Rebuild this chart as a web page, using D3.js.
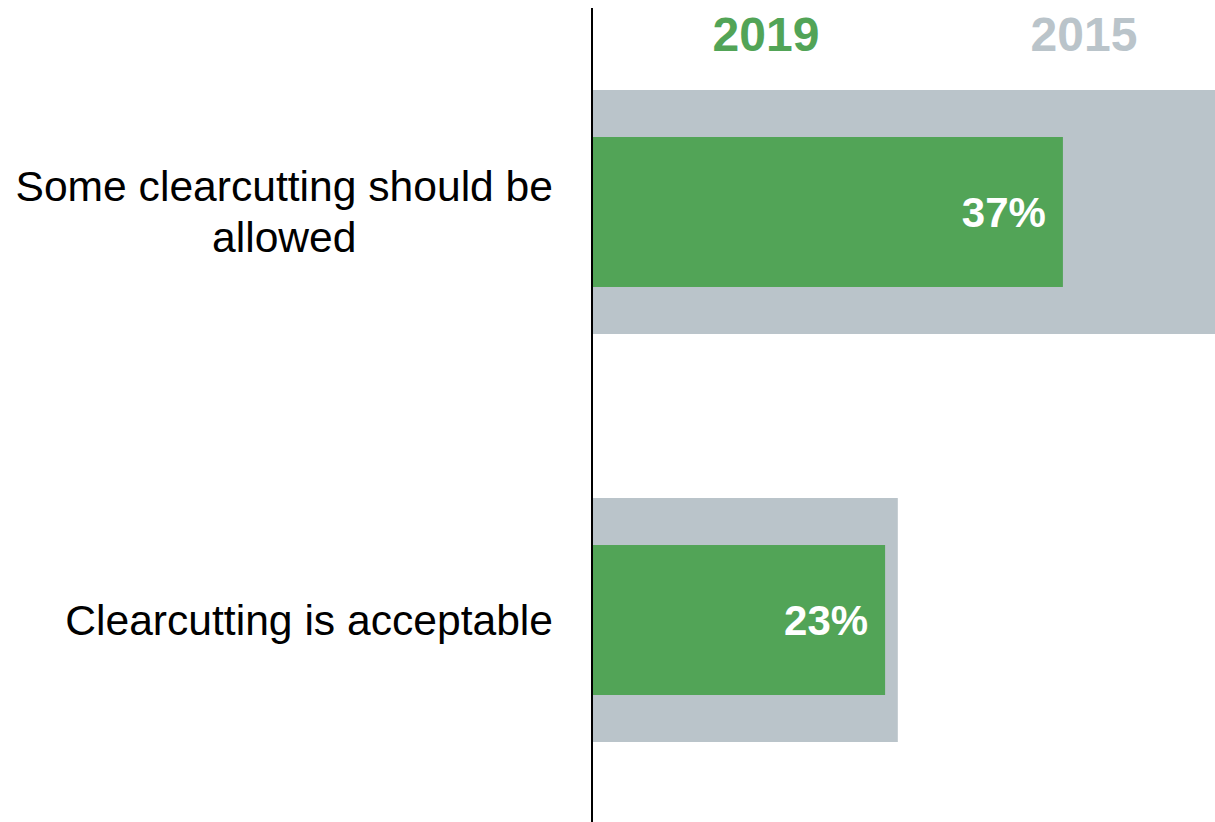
<!DOCTYPE html>
<html>
<head>
<meta charset="utf-8">
<script src="https://cdn.jsdelivr.net/npm/d3@7"></script>
<style>
  html, body { margin: 0; padding: 0; background: #fff; }
  svg { display: block; font-family: "Liberation Sans", Arial, Helvetica, sans-serif; }
</style>
</head>
<body>
<svg id="chart" width="1215" height="822"></svg>
<script>
// Survey responses on clearcutting, share of respondents
const categories = [
  ["Some clearcutting should be", "allowed"],
  ["Clearcutting is acceptable"]
];
const years = ["2019", "2015"];
const values2019 = [37, 23];
const values2015 = [49, 24];

const colors = { "2019": "#52a457", "2015": "#bac4ca" };

const W = 1215, H = 822;
const svg = d3.select("#chart");

const zeroX = 593;
const x = d3.scaleLinear().domain([0, 100]).range([zeroX, zeroX + 1270]);

const keys = categories.map(c => c.join(" "));
const y = d3.scaleBand().domain(keys).range([90, 742]).paddingInner(0.402).paddingOuter(0);
const inset = 47;

// 2015 background bars
svg.append("g").selectAll("rect")
  .data(values2015)
  .join("rect")
  .attr("x", x(0))
  .attr("y", (d, i) => y(keys[i]))
  .attr("width", d => x(d) - x(0))
  .attr("height", y.bandwidth())
  .attr("fill", colors["2015"]);

// 2019 foreground bars
svg.append("g").selectAll("rect")
  .data(values2019)
  .join("rect")
  .attr("x", x(0))
  .attr("y", (d, i) => y(keys[i]) + inset)
  .attr("width", d => x(d) - x(0))
  .attr("height", y.bandwidth() - 2 * inset)
  .attr("fill", colors["2019"]);

// value labels inside the 2019 bars
svg.append("g").selectAll("text")
  .data(values2019)
  .join("text")
  .attr("x", d => x(d) - 17)
  .attr("y", (d, i) => y(keys[i]) + y.bandwidth() / 2 + 15)
  .attr("text-anchor", "end")
  .attr("fill", "#fff")
  .attr("font-weight", "bold")
  .attr("font-size", 42)
  .text(d => d + "%");

// category labels, right edge at 553, lines centred within the block
const lineH = 51;
const labelRight = 553;
categories.forEach((lines, i) => {
  const cy = y(keys[i]) + y.bandwidth() / 2;
  const g = svg.append("g");
  const texts = lines.map((ln, j) => g.append("text")
    .attr("font-size", 42.6)
    .attr("fill", "#000")
    .attr("text-anchor", "middle")
    .attr("y", cy - (lines.length - 1) * lineH / 2 + j * lineH + 15)
    .text(ln));
  const maxW = d3.max(texts, t => t.node().getComputedTextLength());
  texts.forEach(t => t.attr("x", labelRight - maxW / 2));
});

// vertical baseline
svg.append("line")
  .attr("x1", 592).attr("x2", 592)
  .attr("y1", 8).attr("y2", H)
  .attr("stroke", "#000")
  .attr("stroke-width", 2);

// year legend
const legendX = [766, 1084];
svg.append("g").selectAll("text")
  .data(years)
  .join("text")
  .attr("x", (d, i) => legendX[i])
  .attr("y", 51)
  .attr("text-anchor", "middle")
  .attr("font-weight", "bold")
  .attr("font-size", 48)
  .attr("fill", d => colors[d])
  .text(d => d);
</script>
</body>
</html>
